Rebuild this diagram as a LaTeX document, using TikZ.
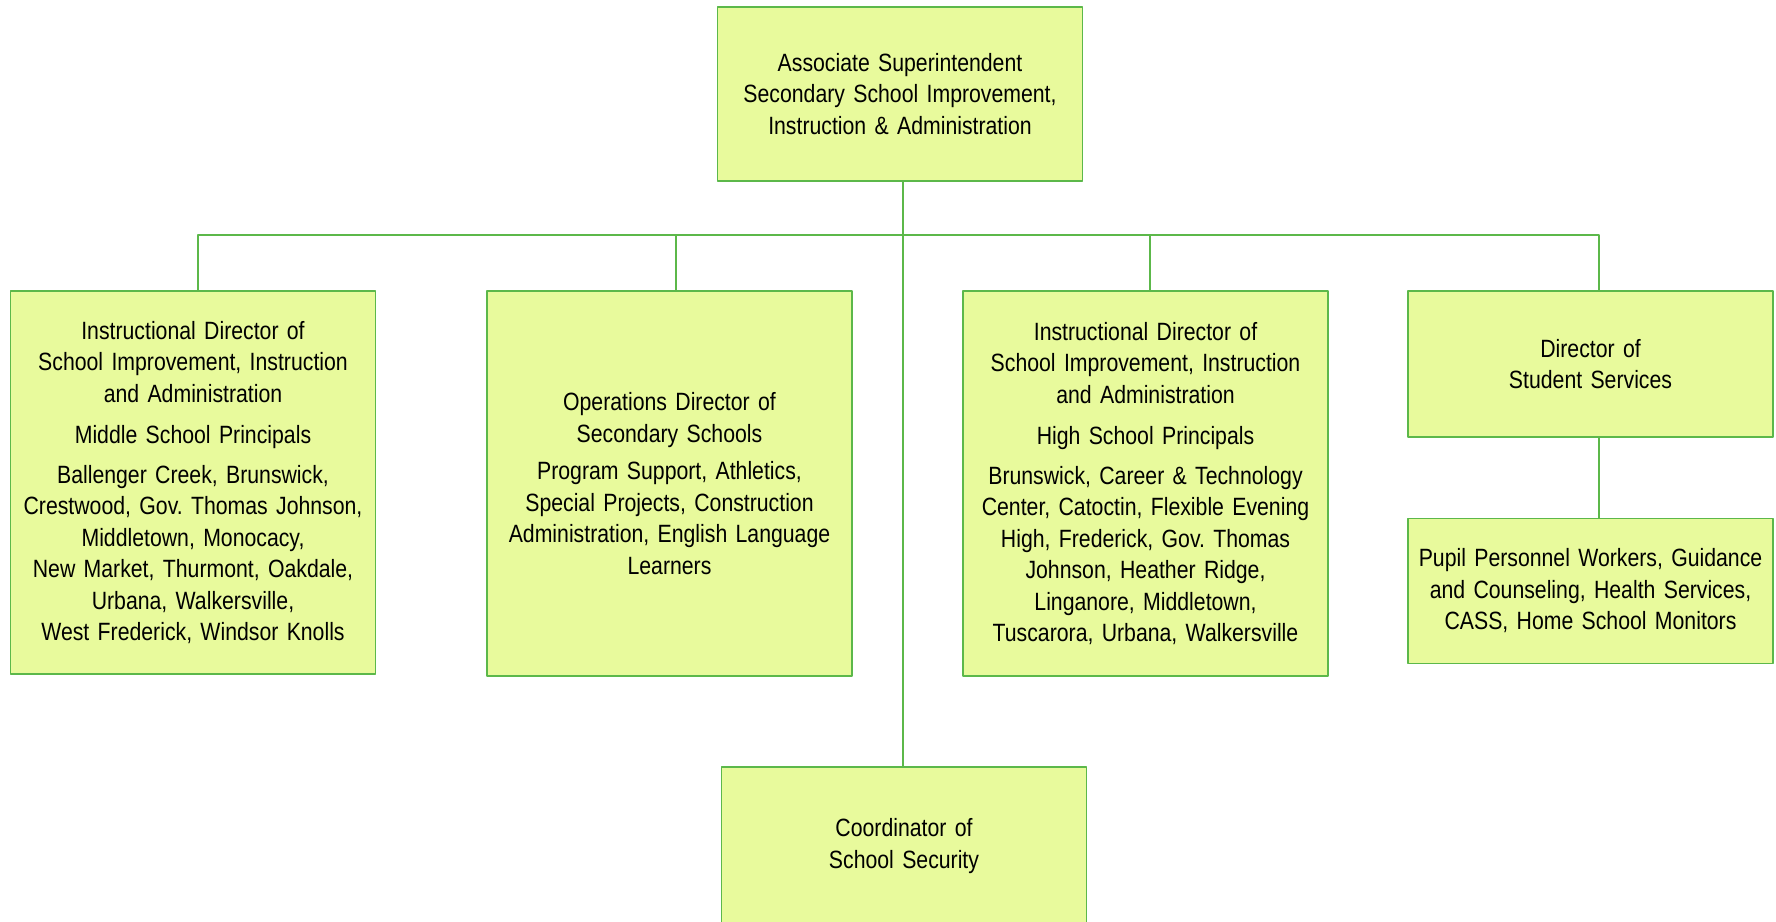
\documentclass[tikz,border=0pt]{standalone}
\usepackage{fontspec}
\setmainfont{Liberation Sans}[FakeStretch=0.85]
\definecolor{boxfill}{HTML}{E8FA9C}
\definecolor{boxline}{HTML}{5CB84A}
\newcommand\orgfont{\fontsize{25}{31.5}\selectfont\spaceskip=4.6pt plus 1pt minus 1pt\relax}
\frenchspacing
\begin{document}
\begin{tikzpicture}[x=1pt, y=-1pt, line join=round,
	orgbox/.style={draw=boxline, fill=boxfill, line width=1.3pt, align=center, inner sep=0pt,
		text width=365pt, minimum height=#1, font=\orgfont},
	link/.style={draw=boxline, line width=1.2pt}]
	\useasboundingbox (0,0) rectangle (1776,921);
	\coordinate (bus) at (0,235);
	
	\node[orgbox=174] (assoc) at (900,94) {Associate Superintendent\\Secondary School Improvement,\\Instruction \& Administration};
	
	\node[orgbox=383] (idms) at (193,482.5) {Instructional Director of\\School Improvement, Instruction\\and Administration\\[10pt]
		Middle School Principals\\[8pt]
		Ballenger Creek, Brunswick,\\Crestwood, Gov. Thomas Johnson,\\Middletown, Monocacy,\\New Market, Thurmont, Oakdale,\\Urbana, Walkersville,\\West Frederick, Windsor Knolls};
	\node[orgbox=385] (ops) at (669.5,483.5) {Operations Director of\\Secondary Schools\\[6pt]
		Program Support, Athletics,\\Special Projects, Construction\\Administration, English Language\\Learners};
	\node[orgbox=385] (idhs) at (1145.5,483.5) {Instructional Director of\\School Improvement, Instruction\\and Administration\\[10pt]
		High School Principals\\[8pt]
		Brunswick, Career \& Technology\\Center, Catoctin, Flexible Evening\\High, Frederick, Gov. Thomas\\Johnson, Heather Ridge,\\Linganore, Middletown,\\Tuscarora, Urbana, Walkersville};
	\node[orgbox=146] (stud) at (1590.5,364) {Director of\\Student Services};
	\node[orgbox=145] (pupil) at (1590.5,591) {Pupil Personnel Workers, Guidance\\and Counseling, Health Services,\\CASS, Home School Monitors};
	\node[orgbox=158] (secur) at (904,846) {Coordinator of\\School Security};
	
	% connectors
	\draw[link] ([xshift=3pt]assoc.south) -- ([xshift=-1pt]secur.north);
	\draw[link] ([xshift=5pt]idms.north) -- ([xshift=5pt]idms.north |- bus) -- ([xshift=8.5pt]stud.north |- bus) -- ([xshift=8.5pt]stud.north);
	\draw[link] ([xshift=6.5pt]ops.north) -- ([xshift=6.5pt]ops.north |- bus);
	\draw[link] ([xshift=4.5pt]idhs.north) -- ([xshift=4.5pt]idhs.north |- bus);
	\draw[link] ([xshift=8.5pt]stud.south) -- ([xshift=8.5pt]pupil.north);
\end{tikzpicture}
\end{document}
